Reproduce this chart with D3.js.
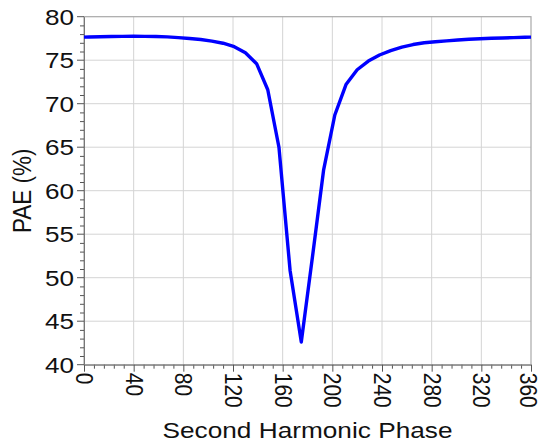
<!DOCTYPE html>
<html><head><meta charset="utf-8">
<script src="https://cdn.jsdelivr.net/npm/d3@7"></script>
<style>html,body{margin:0;padding:0;background:#fff;}svg{display:block;}</style>
</head><body>
<svg id="c" width="544" height="445"></svg>
<script>
const phase = [0,4,13,22,31,40,49,58,67,76,85,94,103,112,121,130,139,148,157,166,175,184,193,202,211,220,229,238,247,256,265,274,283,292,301,310,319,328,337,346,355,360];
const pae = [77.65,77.67,77.7,77.72,77.74,77.75,77.74,77.72,77.68,77.6,77.5,77.38,77.2,76.95,76.55,75.85,74.6,71.6,65.0,50.8,42.6,52.4,62.4,68.7,72.2,73.9,74.9,75.6,76.1,76.5,76.8,77.0,77.12,77.22,77.32,77.4,77.47,77.52,77.56,77.6,77.63,77.65];
const xTicks = [0,40,80,120,160,200,240,280,320,360];
const yTicks = [40,45,50,55,60,65,70,75,80];
const xLabel = "Second Harmonic Phase";
const yLabel = "PAE (%)";

const svg = d3.select("#c");
const L = 84, R = 531, T = 16.7, B = 364.7;
const x = d3.scaleLinear().domain([0,360]).range([L,R]);
const y = d3.scaleLinear().domain([40,80]).range([B,T]);
const font = "'Liberation Sans', Arial, sans-serif";
const SX = 1.16;

// grid
const g = svg.append("g");
g.selectAll(".vx").data(xTicks.slice(1,-1)).enter().append("line")
  .attr("x1",d=>x(d)).attr("x2",d=>x(d)).attr("y1",T).attr("y2",B)
  .attr("stroke","#d4d4d4").attr("stroke-width",1);
g.selectAll(".hy").data(yTicks.slice(1,-1)).enter().append("line")
  .attr("y1",d=>y(d)).attr("y2",d=>y(d)).attr("x1",L).attr("x2",R)
  .attr("stroke","#d4d4d4").attr("stroke-width",1);

// frame
svg.append("rect").attr("x",L).attr("y",T).attr("width",R-L).attr("height",B-T)
  .attr("fill","none").attr("stroke","#a8a8a8").attr("stroke-width",1.2);

// minor ticks
const xMinor = d3.range(0,361,8).filter(v=>v%40!==0);
const yMinor = d3.range(40,81,1).filter(v=>v%5!==0);
svg.append("g").attr("transform",`translate(0,${B})`)
  .call(d3.axisBottom(x).tickValues(xMinor).tickSize(4).tickFormat(""))
  .call(a=>a.select(".domain").remove())
  .call(a=>a.selectAll("line").attr("stroke","#555"));
svg.append("g").attr("transform",`translate(${L},0)`)
  .call(d3.axisLeft(y).tickValues(yMinor).tickSize(4).tickFormat(""))
  .call(a=>a.select(".domain").remove())
  .call(a=>a.selectAll("line").attr("stroke","#555"));

// major axes
const xa = svg.append("g").attr("transform",`translate(0,${B})`)
  .call(d3.axisBottom(x).tickValues(xTicks).tickSize(7).tickSizeOuter(0));
xa.select(".domain").attr("stroke","#777");
xa.selectAll("line").attr("stroke","#555");
xa.selectAll("text").attr("font-family",font).attr("font-size",21).attr("fill","#111")
  .attr("text-anchor","start").attr("dy",null).attr("y",0).attr("x",0)
  .attr("transform",d=>`translate(${d===360?-3:0},8) rotate(90) scale(1,1.16)`)
  .attr("dominant-baseline","central");

const ya = svg.append("g").attr("transform",`translate(${L},0)`)
  .call(d3.axisLeft(y).tickValues(yTicks).tickSize(7).tickSizeOuter(0));
ya.select(".domain").attr("stroke","#777");
ya.selectAll("line").attr("stroke","#555");
ya.selectAll("text").attr("font-family",font).attr("font-size",22.5).attr("fill","#111")
  .attr("x",0).attr("y",0).attr("dy","0.36em")
  .attr("transform",d=>`translate(-10,${y(d)}) scale(${SX},1)`);
ya.selectAll(".tick").attr("transform",null);
ya.selectAll(".tick line").attr("transform",d=>`translate(0,${y(d)})`);

// line
const line = d3.line().x((d,i)=>x(phase[i])).y(d=>y(d));
svg.append("path").datum(pae).attr("d",line).attr("fill","none")
  .attr("stroke","#0000ff").attr("stroke-width",3.4).attr("stroke-linejoin","round");

// labels
svg.append("text").attr("transform",`translate(${(L+R)/2},438) scale(${SX},1)`).attr("text-anchor","middle")
  .attr("font-family",font).attr("font-size",22.6).attr("fill","#111").text(xLabel);
svg.append("text").attr("transform",`translate(31,${(T+B)/2}) scale(${SX},1) rotate(-90)`)
  .attr("text-anchor","middle").attr("font-family",font).attr("font-size",22.5).attr("fill","#111").text(yLabel);
</script>
</body></html>
